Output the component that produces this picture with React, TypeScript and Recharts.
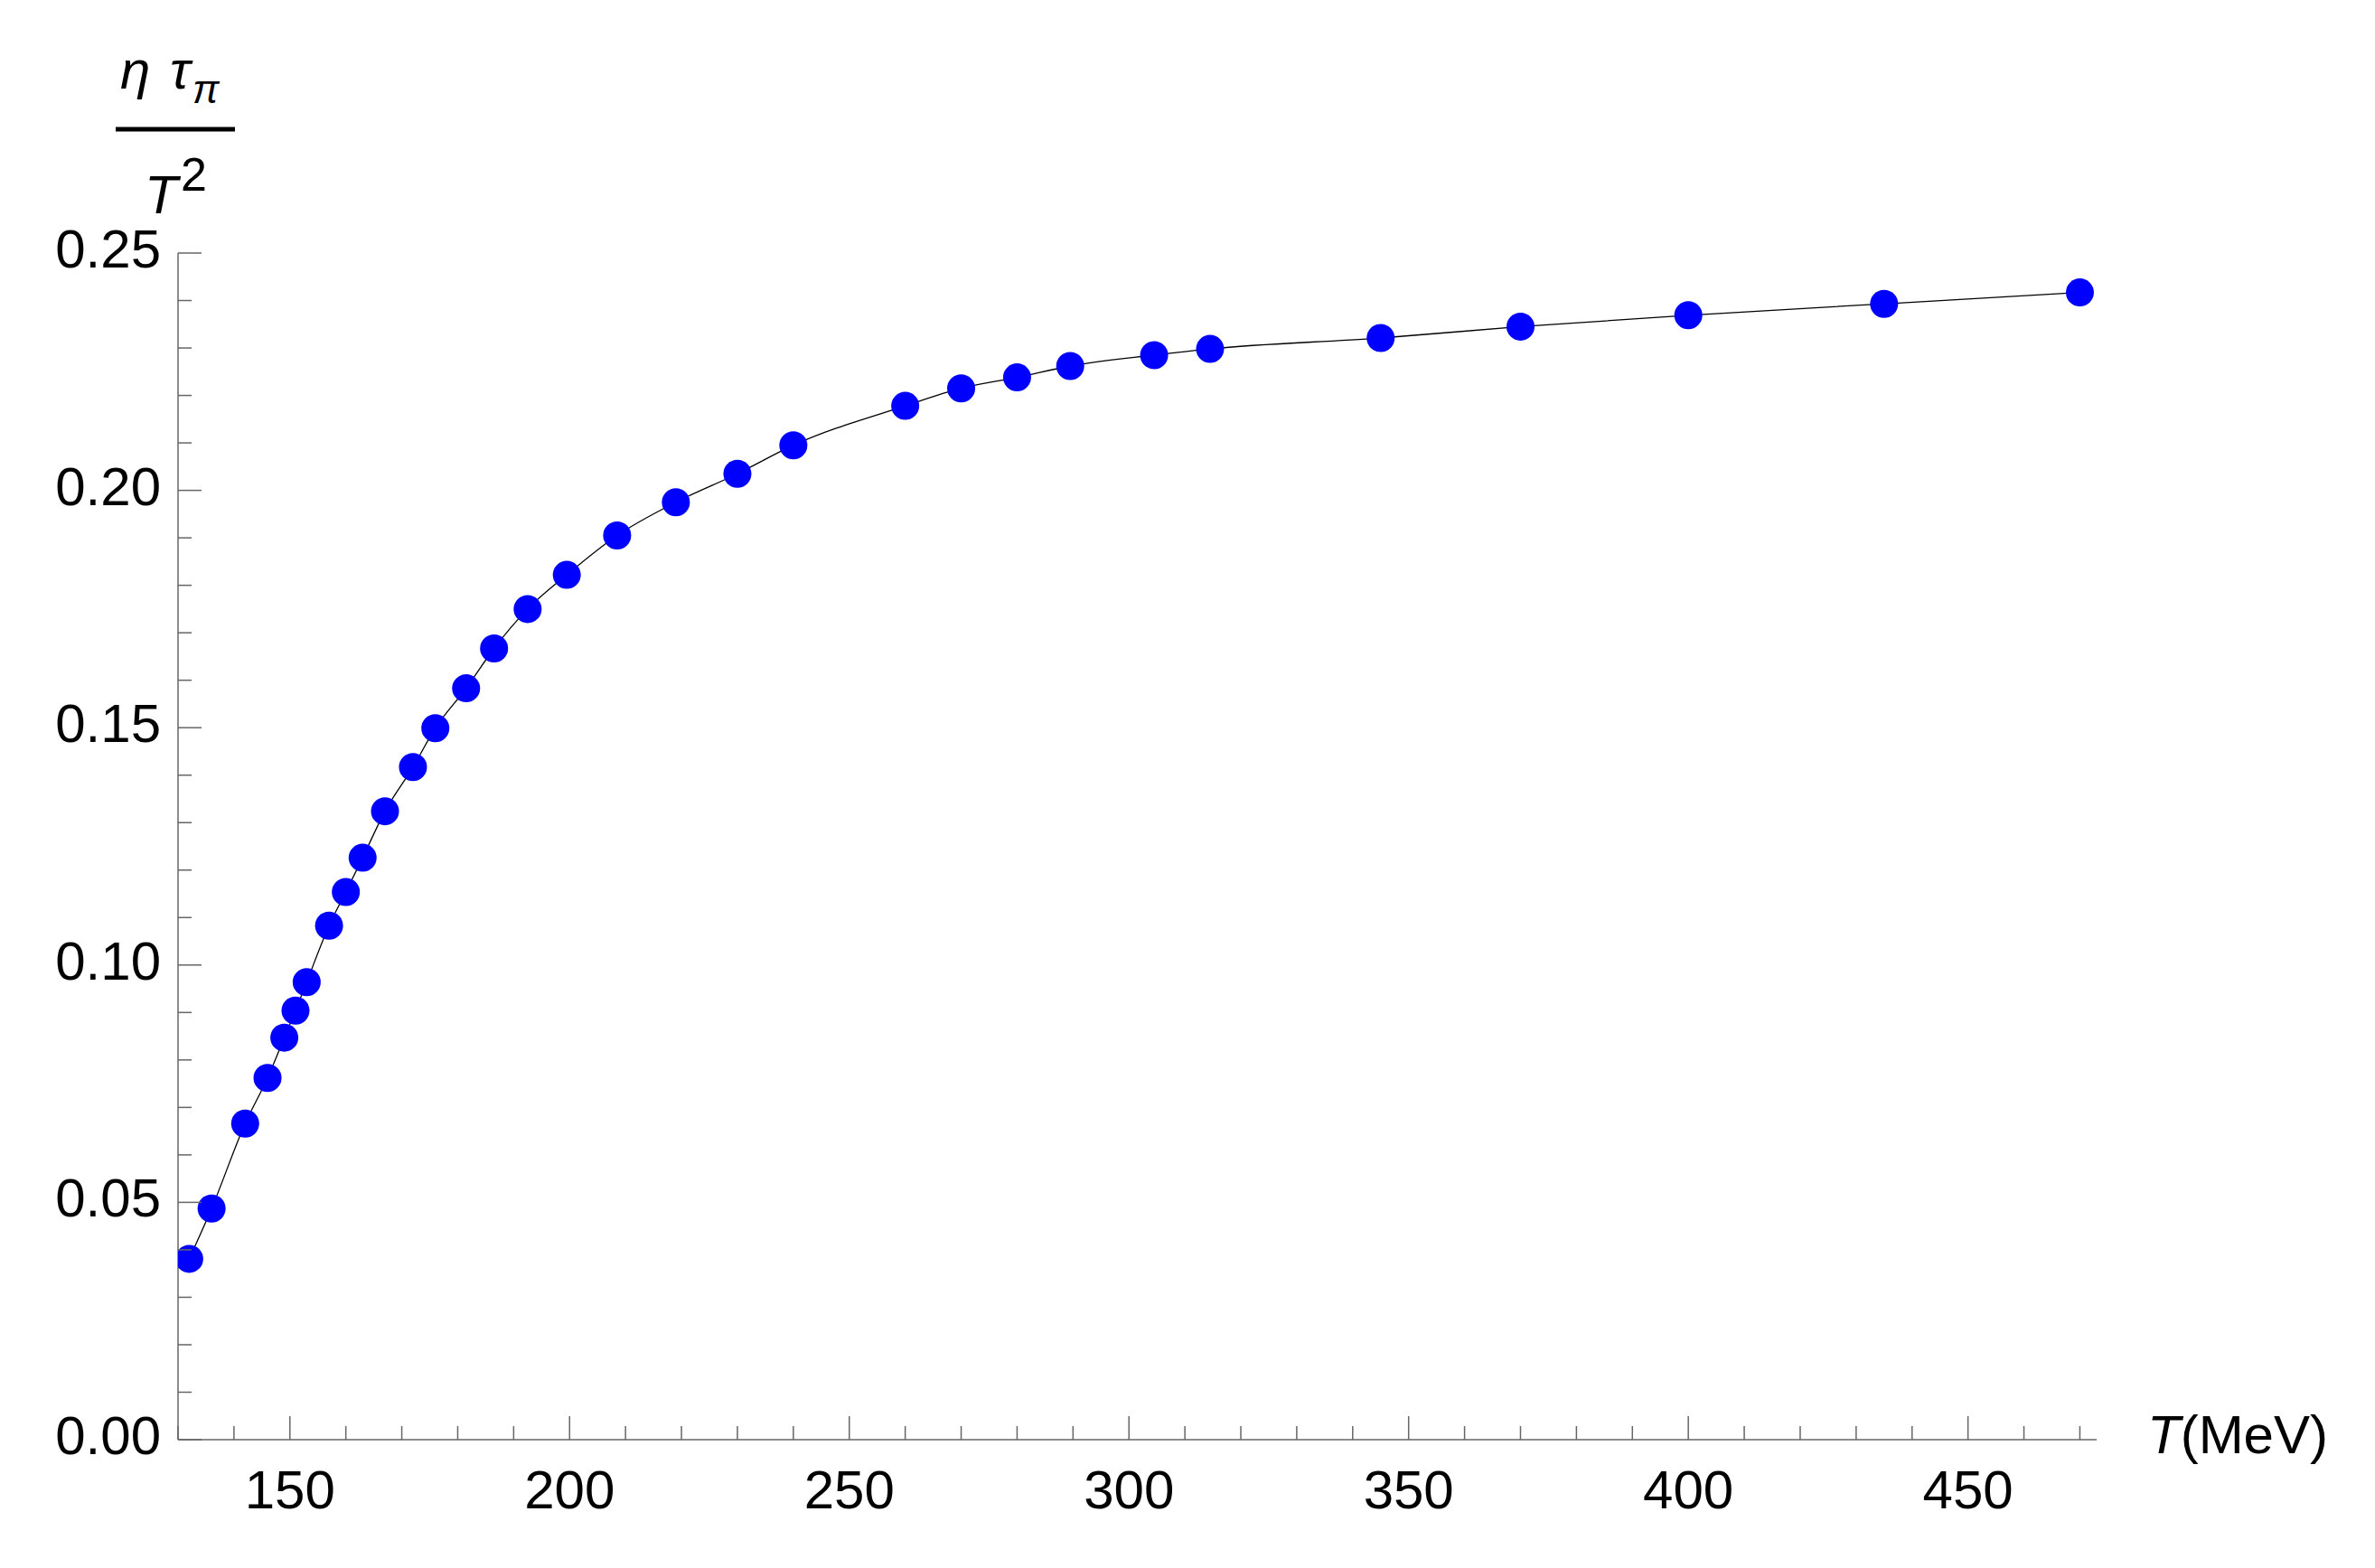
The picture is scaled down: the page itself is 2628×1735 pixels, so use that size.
import React from "react";
import { LineChart, Line, XAxis, YAxis } from "recharts";

// temperature (MeV) and eta*tau_pi/T^2
const temps = [132, 136, 142, 146, 149, 151, 153, 157, 160, 163, 167, 172, 176, 181.5, 186.5, 192.5, 199.5, 208.5, 219, 230, 240, 260, 270, 280, 289.5, 304.5, 314.5, 345, 370, 400, 435, 470];
const ratio = [0.0381, 0.0487, 0.0666, 0.0762, 0.0847, 0.0904, 0.0964, 0.1083, 0.1154, 0.1226, 0.1324, 0.1417, 0.1499, 0.1583, 0.1667, 0.175, 0.1822, 0.1905, 0.1975, 0.2035, 0.2095, 0.2178, 0.2215, 0.2238, 0.2262, 0.2285, 0.2298, 0.2321, 0.2345, 0.2369, 0.2393, 0.2417];

const xTicks = [130, 140, 150, 160, 170, 180, 190, 200, 210, 220, 230, 240, 250, 260, 270, 280, 290, 300, 310, 320, 330, 340, 350, 360, 370, 380, 390, 400, 410, 420, 430, 440, 450, 460, 470];
const xLabels = [150, 200, 250, 300, 350, 400, 450];
const yTicks = [0, 0.01, 0.02, 0.03, 0.04, 0.05, 0.06, 0.07, 0.08, 0.09, 0.1, 0.11, 0.12, 0.13, 0.14, 0.15, 0.16, 0.17, 0.18, 0.19, 0.2, 0.21, 0.22, 0.23, 0.24, 0.25];
const yLabels = [0, 0.05, 0.1, 0.15, 0.2, 0.25];

const data = temps.map((t, i) => ({ t, v: ratio[i] }));

const AXIS = "#666666";
const FONT = "'Liberation Sans', Arial, sans-serif";

const isMajor = (list: number[], v: number) => list.some((l) => Math.abs(l - v) < 1e-9);

function YTick({ x, y, payload }: any) {
  const major = isMajor(yLabels, payload.value);
  return (
    <g>
      <line x1={x} x2={x + (major ? 26 : 15)} y1={y} y2={y} stroke={AXIS} strokeWidth={1.5} />
      {major && (
        <text x={x - 19} y={y + 16} textAnchor="end" fontSize={60} fontFamily={FONT} fill="#000">
          {payload.value.toFixed(2)}
        </text>
      )}
    </g>
  );
}

function XTick({ x, y, payload }: any) {
  const major = isMajor(xLabels, payload.value);
  return (
    <g>
      <line x1={x} x2={x} y1={y} y2={y - (major ? 26 : 15)} stroke={AXIS} strokeWidth={1.5} />
      {major && (
        <text x={x} y={y + 76} textAnchor="middle" fontSize={60} fontFamily={FONT} fill="#000">
          {payload.value}
        </text>
      )}
    </g>
  );
}

export default function App() {
  return (
    <div style={{ position: "absolute", left: 0, top: 0, width: 2628, height: 1735, background: "#fff" }}>
      <LineChart width={2628} height={1735} data={data} margin={{ top: 280, right: 308, bottom: 82, left: 137 }}>
        <XAxis
          type="number"
          dataKey="t"
          domain={[130, 473]}
          ticks={xTicks}
          interval={0}
          height={60}
          tickSize={0}
          tickMargin={0}
          tickLine={false}
          axisLine={{ stroke: AXIS, strokeWidth: 1.5 }}
          tick={<XTick />}
          allowDataOverflow
        />
        <YAxis
          type="number"
          domain={[0, 0.25]}
          ticks={yTicks}
          interval={0}
          width={60}
          tickSize={0}
          tickMargin={0}
          tickLine={false}
          axisLine={{ stroke: AXIS, strokeWidth: 1.5 }}
          tick={<YTick />}
          allowDataOverflow
        />
        <Line
          type="monotone"
          dataKey="v"
          stroke="#000"
          strokeWidth={1.3}
          dot={{ r: 15.5, fill: "#0000ff", stroke: "none" }}
          activeDot={false}
          isAnimationActive={false}
        />
      </LineChart>
      <svg
        width={2628}
        height={1735}
        style={{ position: "absolute", left: 0, top: 0, pointerEvents: "none" }}
        fontFamily={FONT}
      >
        {/* y label: eta tau_pi / T^2 */}
        <text x={133} y={98} fontSize={60} fontStyle="italic" fill="#000">η</text>
        <text x={188} y={98} fontSize={60} fontStyle="italic" fill="#000">τ</text>
        <text x={213} y={114} fontSize={44} fontStyle="italic" fill="#000">π</text>
        <line x1={128} x2={260} y1={143} y2={143} stroke="#000" strokeWidth={5} />
        <text x={160} y={236} fontSize={60} fontStyle="italic" fill="#000">T</text>
        <text x={200} y={211} fontSize={52} fill="#000">2</text>
        {/* x label */}
        <text x={2376} y={1608} fontSize={60} fill="#000">
          <tspan fontStyle="italic">T</tspan>
          <tspan>(MeV)</tspan>
        </text>
      </svg>
    </div>
  );
}
